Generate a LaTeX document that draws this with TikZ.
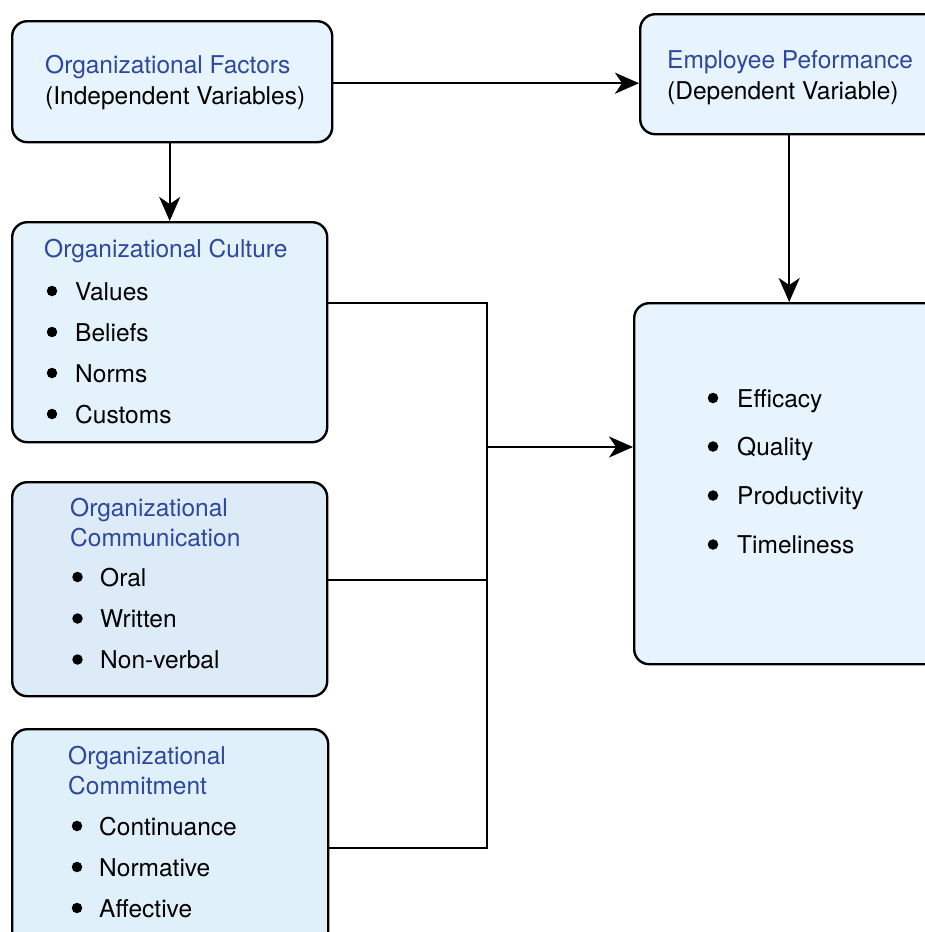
\documentclass[tikz,border=0pt]{standalone}
\usepackage{fontspec}
\setmainfont{TeX Gyre Heros}
\usetikzlibrary{arrows.meta}
\definecolor{fillA}{HTML}{E7F4FD}
\definecolor{fillC}{HTML}{E3F2FB}
\definecolor{fillD}{HTML}{DCEBF7}
\definecolor{fillE}{HTML}{DFF0FA}
\definecolor{titleblue}{HTML}{2E489E}
\begin{document}
\begin{tikzpicture}[x=1pt,y=-1pt,
  box/.style={draw=black, line width=2.4pt, rounded corners=15pt, anchor=north west, inner sep=0pt},
  conn/.style={line width=2.2pt},
  arr/.style={conn, -{Stealth[length=24pt,width=21pt,inset=7pt]}},
  ttl/.style={anchor=base west, inner sep=0pt, text=titleblue, font=\fontsize{24.5}{29}\selectfont},
  txt/.style={anchor=base west, inner sep=0pt, text=black, font=\fontsize{24.5}{29}\selectfont},
  bul/.style={circle, fill=black, inner sep=0pt, minimum size=10.5pt}]
\useasboundingbox (0,0) rectangle (925,932);
\clip (0,0) rectangle (925,932);
% boxes
\node[box, fill=fillA, minimum width=320pt, minimum height=121pt] (A) at (11,20) {};
\node[box, fill=fillA, minimum width=306pt, minimum height=120pt] (B) at (639,13) {};
\node[box, fill=fillC, minimum width=315pt, minimum height=220pt] (C) at (11,221) {};
\node[box, fill=fillD, minimum width=315pt, minimum height=214pt] (D) at (11,481) {};
\node[box, fill=fillE, minimum width=316pt, minimum height=222pt] (E) at (11,728) {};
\node[box, fill=fillA, minimum width=310pt, minimum height=361pt] (F) at (633,302) {};
% texts A
\node[ttl] (a1) at (45,73.5) {Organizational Factors};
\node[txt] (a2) at (45,104.5) {(Independent Variables)};
% texts B
\node[ttl] (b1) at (667,68) {Employee Peformance};
\node[txt] (b2) at (667,99) {(Dependent Variable)};
% texts C
\node[ttl] (c0) at (44,257.5) {Organizational Culture};
\node[bul] (cb1) at (52,291) {}; \node[txt] (c1) at (75,300) {Values};
\node[bul] (cb2) at (52,332) {}; \node[txt] (c2) at (75,341) {Beliefs};
\node[bul] (cb3) at (52,373) {}; \node[txt] (c3) at (75,382) {Norms};
\node[bul] (cb4) at (52,414) {}; \node[txt] (c4) at (75,423) {Customs};
% texts D
\node[ttl] (d0) at (70,516) {Organizational};
\node[ttl] (d0b) at (70,546) {Communication};
\node[bul] (db1) at (77.5,577) {}; \node[txt] (d1) at (100,586) {Oral};
\node[bul] (db2) at (77.5,618.5) {}; \node[txt] (d2) at (100,627.5) {Written};
\node[bul] (db3) at (77.5,659.5) {}; \node[txt] (d3) at (100,668.5) {Non-verbal};
% texts E
\node[ttl] (e0) at (68,764.5) {Organizational};
\node[ttl] (e0b) at (68,794.5) {Commitment};
\node[bul] (eb1) at (77,826) {}; \node[txt] (e1) at (99,835) {Continuance};
\node[bul] (eb2) at (77,867) {}; \node[txt] (e2) at (99,876) {Normative};
\node[bul] (eb3) at (77,908) {}; \node[txt] (e3) at (99,917) {Affective};
% texts F
\node[bul] (fb1) at (713,398) {}; \node[txt] (f1) at (737,407) {Efficacy};
\node[bul] (fb2) at (713,446.5) {}; \node[txt] (f2) at (737,455.5) {Quality};
\node[bul] (fb3) at (713,495.5) {}; \node[txt] (f3) at (737,504.5) {Productivity};
\node[bul] (fb4) at (713,544.5) {}; \node[txt] (f4) at (737,553.5) {Timeliness};
% connectors
\coordinate (jt) at (487,302);
\coordinate (jd) at (487,580);
\coordinate (jm) at (487,447);
\coordinate (jb) at (487,848);
\draw[arr] ([yshift=-1.5pt]A.east) -- ([yshift=-1.5pt]A.east -| B.west);
\draw[arr] (A.south -| C.north) -- (C.north);
\draw[arr] (B.south -| F.north) -- (F.north);
\draw[conn] ([yshift=29pt]C.east) -| (jb) -- (jb -| E.east);
\draw[conn] (jd -| D.east) -- (jd);
\draw[arr] (jm) -- (jm -| F.west);
\end{tikzpicture}
\end{document}
